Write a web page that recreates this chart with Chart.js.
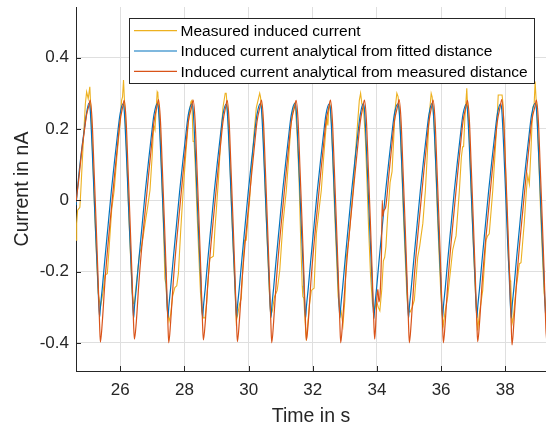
<!DOCTYPE html>
<html>
<head>
<meta charset="utf-8">
<title>Induced current</title>
<script src="https://cdn.jsdelivr.net/npm/chart.js@4.4.1/dist/chart.umd.min.js"></script>
<style>
  html, body { margin: 0; padding: 0; background: #ffffff; }
  #wrap { width: 546px; height: 429px; }
</style>
</head>
<body>
<div id="wrap"><canvas id="currentChart" width="546" height="429"></canvas></div>
<script>
// ============================================================================
// Data
// ============================================================================

const seriesLabels = [
    'Measured induced current',
    'Induced current analytical from fitted distance',
    'Induced current analytical from measured distance'
];

const xTickValues = [26, 28, 30, 32, 34, 36, 38];
const yTickValues = [-0.4, -0.2, 0, 0.2, 0.4];

// Measured induced current (nA)
const measuredTime = [
    24.62, 24.64, 24.67, 24.74, 24.77, 24.85, 24.91, 24.95, 25.00, 25.05,
    25.10, 25.15, 25.20, 25.26, 25.31, 25.38, 25.42, 25.47, 25.52, 25.595,
    25.66, 25.73, 25.81, 25.90, 25.99, 26.04, 26.07, 26.10,
    26.16, 26.21, 26.26, 26.32, 26.37, 26.41, 26.44, 26.48, 26.54, 26.60,
    26.66, 26.70, 26.78, 26.85, 26.925, 26.99, 27.04, 27.08, 27.12, 27.15,
    27.17, 27.23, 27.28, 27.33, 27.37, 27.39, 27.42, 27.47, 27.52, 27.57,
    27.63, 27.70, 27.76, 27.81, 27.88, 27.96, 28.05, 28.13, 28.20, 28.23,
    28.25, 28.27, 28.30, 28.34, 28.39, 28.45, 28.50, 28.54, 28.58, 28.64,
    28.69, 28.74, 28.79, 28.85, 28.90, 28.95, 29.00, 29.06, 29.13, 29.20, 29.27,
    29.30, 29.37, 29.42, 29.47, 29.53, 29.58, 29.615, 29.66, 29.72, 29.77,
    29.82, 29.875, 29.925, 29.98, 30.03, 30.10, 30.17, 30.24, 30.345,
    30.37, 30.44, 30.49, 30.54, 30.60, 30.64, 30.69, 30.74, 30.78, 30.81,
    30.89, 30.97, 31.02, 31.07, 31.175, 31.25, 31.31, 31.37, 31.43,
    31.46, 31.52, 31.57, 31.62, 31.67, 31.69, 31.72, 31.76, 31.80, 31.84,
    31.90, 31.955, 32.04, 32.11, 32.19, 32.266, 32.33, 32.40, 32.44, 32.47, 32.50, 32.53,
    32.58, 32.63, 32.68, 32.74, 32.79, 32.83, 32.88, 32.94, 33.00, 33.045,
    33.12, 33.19, 33.255, 33.32, 33.40, 33.45, 33.49,
    33.53, 33.58, 33.64, 33.69, 33.74, 33.80, 33.86, 33.92, 33.95, 33.98,
    34.04, 34.09, 34.15, 34.20, 34.24, 34.28, 34.33, 34.41, 34.47, 34.52, 34.57, 34.62,
    34.66, 34.72, 34.77, 34.82, 34.88, 34.93, 34.96, 35.03, 35.10, 35.165,
    35.27, 35.33, 35.375, 35.43, 35.51, 35.57, 35.63, 35.69,
    35.72, 35.78, 35.83, 35.88, 35.94, 35.99, 36.04, 36.07, 36.11, 36.205,
    36.36, 36.41, 36.465, 36.57, 36.63, 36.67, 36.70, 36.74, 36.80,
    36.83, 36.86, 36.91, 36.96, 37.02, 37.07, 37.14, 37.19, 37.297, 37.40,
    37.45, 37.50, 37.61, 37.68, 37.74, 37.78, 37.84, 37.90,
    37.93, 37.97, 38.01, 38.06, 38.10, 38.15, 38.17, 38.21, 38.25, 38.33,
    38.44, 38.49, 38.54, 38.59, 38.66, 38.70, 38.75, 38.80, 38.855, 38.90, 38.93,
    39.00, 39.05, 39.10, 39.16, 39.21, 39.27, 39.30
];
const measuredCurrent = [
    -0.112, -0.065, -0.028, -0.02, 0.028, 0.17, 0.27, 0.304, 0.285, 0.318,
    0.22, 0.10, -0.03, -0.16, -0.26, -0.30, -0.28, -0.253, -0.21, -0.206,
    -0.122, -0.028, 0.028, 0.13, 0.215, 0.28, 0.29, 0.337,
    0.22, 0.10, -0.03, -0.16, -0.26, -0.29, -0.29, -0.25, -0.20, -0.15,
    -0.131, -0.11, -0.06, -0.02, 0.028, 0.12, 0.21, 0.197, 0.26, 0.304,
    0.30, 0.22, 0.10, -0.03, -0.15, -0.22, -0.235, -0.31, -0.34, -0.32,
    -0.27, -0.245, -0.24, -0.206, -0.09, 0.028, 0.14, 0.23, 0.276, 0.28,
    0.22, 0.165, 0.165, 0.09, -0.03, -0.16, -0.26, -0.31, -0.33, -0.33,
    -0.29, -0.22, -0.163, -0.16, -0.157, -0.08, -0.019, 0.06, 0.17, 0.26, 0.30,
    0.30, 0.22, 0.10, -0.03, -0.16, -0.26, -0.34, -0.32, -0.29, -0.276,
    -0.19, -0.112, -0.112, -0.05, 0.0, 0.10, 0.19, 0.26, 0.30,
    0.29, 0.22, 0.10, -0.03, -0.16, -0.25, -0.323, -0.31, -0.285, -0.27,
    -0.253, -0.197, -0.13, -0.065, 0.028, 0.12, 0.20, 0.25, 0.27,
    0.26, 0.17, 0.06, -0.10, -0.24, -0.27, -0.275, -0.34, -0.393, -0.35,
    -0.29, -0.253, -0.247, -0.094, -0.03, 0.028, 0.11, 0.19, 0.23, 0.21, 0.26, 0.27,
    0.22, 0.10, -0.03, -0.16, -0.27, -0.30, -0.31, -0.35, -0.28, -0.16,
    -0.112, -0.04, 0.028, 0.12, 0.22, 0.28, 0.30,
    0.27, 0.26, 0.17, 0.05, -0.08, -0.21, -0.29, -0.31, -0.30, -0.28,
    -0.30, -0.31, -0.25, -0.17, -0.16, -0.13, -0.05, 0.05, 0.08, 0.17, 0.26, 0.30,
    0.29, 0.22, 0.10, -0.03, -0.16, -0.26, -0.304, -0.314, -0.30, -0.28,
    -0.16, -0.13, -0.10, -0.065, 0.028, 0.13, 0.24, 0.30,
    0.29, 0.22, 0.10, -0.03, -0.16, -0.26, -0.33, -0.35, -0.32, -0.27,
    -0.14, -0.12, -0.10, 0.028, 0.12, 0.15, 0.15, 0.23, 0.314,
    0.25, 0.22, 0.10, -0.03, -0.16, -0.26, -0.365, -0.32, -0.253, -0.112,
    -0.10, -0.094, 0.028, 0.13, 0.22, 0.295, 0.295, 0.295,
    0.27, 0.18, 0.08, -0.05, -0.17, -0.225, -0.23, -0.347, -0.33, -0.253,
    -0.178, -0.175, -0.12, -0.065, 0.03, 0.07, 0.045, 0.14, 0.26, 0.27, 0.333,
    0.22, 0.10, -0.03, -0.16, -0.26, -0.31, -0.32
];

// Analytical current from fitted distance (nA)
const fittedTime = [
    24.62, 24.70, 24.80, 24.88, 24.95,
    25.02, 25.06, 25.12, 25.18, 25.24, 25.30, 25.355, 25.38, 25.44, 25.52, 25.62, 25.72, 25.82, 25.92, 25.99,
    26.08, 26.12, 26.18, 26.24, 26.30, 26.36, 26.415, 26.44, 26.50, 26.58, 26.68, 26.78, 26.88, 26.98, 27.05,
    27.15, 27.19, 27.25, 27.31, 27.37, 27.43, 27.485, 27.51, 27.57, 27.65, 27.75, 27.85, 27.95, 28.05, 28.12,
    28.23, 28.27, 28.33, 28.39, 28.45, 28.51, 28.565, 28.59, 28.65, 28.73, 28.83, 28.93, 29.03, 29.13, 29.20,
    29.29, 29.33, 29.39, 29.45, 29.51, 29.57, 29.625, 29.65, 29.71, 29.79, 29.89, 29.99, 30.09, 30.19, 30.26,
    30.36, 30.40, 30.46, 30.52, 30.58, 30.64, 30.695, 30.72, 30.78, 30.86, 30.96, 31.06, 31.16, 31.26, 31.33,
    31.44, 31.48, 31.54, 31.60, 31.66, 31.72, 31.775, 31.80, 31.86, 31.94, 32.04, 32.14, 32.24, 32.34, 32.41,
    32.51, 32.55, 32.61, 32.67, 32.73, 32.79, 32.845, 32.87, 32.93, 33.01, 33.11, 33.21, 33.31, 33.41, 33.48,
    33.57, 33.61, 33.67, 33.73, 33.79, 33.85, 33.905, 33.93, 33.99, 34.07, 34.17, 34.27, 34.37, 34.47, 34.54,
    34.65, 34.69, 34.75, 34.81, 34.87, 34.93, 34.985, 35.01, 35.07, 35.15, 35.25, 35.35, 35.45, 35.55, 35.62,
    35.71, 35.75, 35.81, 35.87, 35.93, 35.99, 36.045, 36.07, 36.13, 36.21, 36.31, 36.41, 36.51, 36.61, 36.68,
    36.78, 36.82, 36.88, 36.94, 37.00, 37.06, 37.115, 37.14, 37.20, 37.28, 37.38, 37.48, 37.58, 37.68, 37.75,
    37.85, 37.89, 37.95, 38.01, 38.07, 38.13, 38.185, 38.21, 38.27, 38.35, 38.45, 38.55, 38.65, 38.75, 38.82,
    38.93, 38.97, 39.03, 39.09, 39.15, 39.21, 39.265, 39.29
];
const fittedCurrent = [
    -0.014, 0.065, 0.145, 0.20, 0.245,
    0.272, 0.256, 0.15, 0.02, -0.11, -0.23, -0.328, -0.30, -0.245, -0.165, -0.07, 0.025, 0.11, 0.19, 0.24,
    0.270, 0.254, 0.15, 0.02, -0.11, -0.23, -0.331, -0.30, -0.245, -0.165, -0.07, 0.025, 0.11, 0.19, 0.24,
    0.271, 0.255, 0.15, 0.02, -0.11, -0.23, -0.329, -0.30, -0.245, -0.165, -0.07, 0.025, 0.11, 0.19, 0.24,
    0.270, 0.254, 0.15, 0.02, -0.11, -0.23, -0.330, -0.30, -0.245, -0.165, -0.07, 0.025, 0.11, 0.19, 0.24,
    0.269, 0.253, 0.15, 0.02, -0.11, -0.23, -0.330, -0.30, -0.245, -0.165, -0.07, 0.025, 0.11, 0.19, 0.24,
    0.271, 0.255, 0.15, 0.02, -0.11, -0.23, -0.329, -0.30, -0.245, -0.165, -0.07, 0.025, 0.11, 0.19, 0.24,
    0.272, 0.256, 0.15, 0.02, -0.11, -0.23, -0.331, -0.30, -0.245, -0.165, -0.07, 0.025, 0.11, 0.19, 0.24,
    0.270, 0.254, 0.15, 0.02, -0.11, -0.23, -0.330, -0.30, -0.245, -0.165, -0.07, 0.025, 0.11, 0.19, 0.24,
    0.271, 0.255, 0.15, 0.02, -0.11, -0.23, -0.332, -0.30, -0.245, -0.165, -0.07, 0.025, 0.11, 0.19, 0.24,
    0.270, 0.254, 0.15, 0.02, -0.11, -0.23, -0.330, -0.30, -0.245, -0.165, -0.07, 0.025, 0.11, 0.19, 0.24,
    0.271, 0.255, 0.15, 0.02, -0.11, -0.23, -0.331, -0.30, -0.245, -0.165, -0.07, 0.025, 0.11, 0.19, 0.24,
    0.269, 0.253, 0.15, 0.02, -0.11, -0.23, -0.330, -0.30, -0.245, -0.165, -0.07, 0.025, 0.11, 0.19, 0.24,
    0.270, 0.254, 0.15, 0.02, -0.11, -0.23, -0.331, -0.30, -0.245, -0.165, -0.07, 0.025, 0.11, 0.19, 0.24,
    0.272, 0.256, 0.15, 0.02, -0.11, -0.23, -0.330, -0.30
];

// Analytical current from measured distance (nA)
const measDistTime = [
    24.62, 24.70, 24.80, 24.88, 24.95,
    25.02, 25.06, 25.12, 25.18, 25.24, 25.30, 25.355, 25.38, 25.44, 25.52, 25.62, 25.72, 25.82, 25.92, 25.99,
    26.08, 26.12, 26.18, 26.24, 26.30, 26.36, 26.415, 26.44, 26.50, 26.58, 26.68, 26.78, 26.88, 26.98, 27.05,
    27.15, 27.19, 27.25, 27.31, 27.37, 27.43, 27.485, 27.51, 27.57, 27.65, 27.75, 27.85, 27.95, 28.05, 28.12,
    28.23, 28.27, 28.33, 28.39, 28.45, 28.51, 28.565, 28.59, 28.65, 28.73, 28.83, 28.93, 29.03, 29.13, 29.20,
    29.29, 29.33, 29.39, 29.45, 29.51, 29.57, 29.625, 29.65, 29.71, 29.79, 29.89, 29.99, 30.09, 30.19, 30.26,
    30.36, 30.40, 30.46, 30.52, 30.58, 30.64, 30.695, 30.72, 30.78, 30.86, 30.96, 31.06, 31.16, 31.26, 31.33,
    31.44, 31.48, 31.54, 31.60, 31.66, 31.72, 31.775, 31.80, 31.86, 31.94, 32.04, 32.14, 32.24, 32.34, 32.41,
    32.51, 32.55, 32.61, 32.67, 32.73, 32.79, 32.845, 32.87, 32.93, 33.01, 33.11, 33.21, 33.31, 33.41, 33.48,
    33.57, 33.61, 33.67, 33.73, 33.79, 33.85, 33.905, 33.93, 33.97, 34.00, 34.03, 34.06, 34.10, 34.14,
    34.165, 34.185, 34.21, 34.27, 34.37, 34.47, 34.54,
    34.65, 34.69, 34.75, 34.81, 34.87, 34.93, 34.985, 35.01, 35.07, 35.15, 35.25, 35.35, 35.45, 35.55, 35.62,
    35.71, 35.75, 35.81, 35.87, 35.93, 35.99, 36.045, 36.07, 36.13, 36.21, 36.31, 36.41, 36.51, 36.61, 36.68,
    36.78, 36.82, 36.88, 36.94, 37.00, 37.06, 37.115, 37.14, 37.20, 37.28, 37.38, 37.48, 37.58, 37.68, 37.75,
    37.85, 37.89, 37.95, 38.01, 38.07, 38.13, 38.185, 38.21, 38.27, 38.35, 38.45, 38.55, 38.65, 38.75, 38.82,
    38.93, 38.97, 39.03, 39.09, 39.15, 39.21, 39.265, 39.29
];
const measDistCurrent = [
    -0.005, 0.055, 0.14, 0.195, 0.24,
    0.265, 0.281, 0.225, 0.09, -0.05, -0.20, -0.35, -0.398, -0.34, -0.23, -0.12, -0.025, 0.07, 0.16, 0.22,
    0.264, 0.280, 0.225, 0.09, -0.05, -0.20, -0.35, -0.390, -0.34, -0.23, -0.12, -0.025, 0.07, 0.16, 0.22,
    0.266, 0.282, 0.225, 0.09, -0.05, -0.20, -0.35, -0.400, -0.34, -0.23, -0.12, -0.025, 0.07, 0.16, 0.22,
    0.265, 0.281, 0.225, 0.09, -0.05, -0.20, -0.35, -0.392, -0.34, -0.23, -0.12, -0.025, 0.07, 0.16, 0.22,
    0.264, 0.280, 0.225, 0.09, -0.05, -0.20, -0.35, -0.397, -0.34, -0.23, -0.12, -0.025, 0.07, 0.16, 0.22,
    0.265, 0.281, 0.225, 0.09, -0.05, -0.20, -0.35, -0.400, -0.34, -0.23, -0.12, -0.025, 0.07, 0.16, 0.22,
    0.264, 0.280, 0.225, 0.09, -0.05, -0.20, -0.35, -0.393, -0.34, -0.23, -0.12, -0.025, 0.07, 0.16, 0.22,
    0.265, 0.281, 0.225, 0.09, -0.05, -0.20, -0.35, -0.400, -0.34, -0.23, -0.12, -0.025, 0.07, 0.16, 0.22,
    0.265, 0.281, 0.225, 0.09, -0.05, -0.20, -0.35, -0.390, -0.33, -0.27, -0.25, -0.285, -0.26, -0.15,
    0.0, -0.045, -0.03, -0.02, 0.07, 0.16, 0.22,
    0.266, 0.282, 0.225, 0.09, -0.05, -0.20, -0.35, -0.400, -0.34, -0.23, -0.12, -0.025, 0.07, 0.16, 0.22,
    0.265, 0.281, 0.225, 0.09, -0.05, -0.20, -0.35, -0.400, -0.34, -0.23, -0.12, -0.025, 0.07, 0.16, 0.22,
    0.264, 0.280, 0.225, 0.09, -0.05, -0.20, -0.35, -0.397, -0.34, -0.23, -0.12, -0.025, 0.07, 0.16, 0.22,
    0.266, 0.282, 0.225, 0.09, -0.05, -0.20, -0.35, -0.406, -0.34, -0.23, -0.12, -0.025, 0.07, 0.16, 0.22,
    0.265, 0.281, 0.225, 0.09, -0.05, -0.20, -0.36, -0.392
];

// ============================================================================
// Helpers
// ============================================================================

const FONT = "'Liberation Sans', Arial, Helvetica, sans-serif";
const AXIS_COLOR = '#262626';

function toPoints(xs, ys) {
    return xs.map((x, i) => ({ x: x, y: ys[i] }));
}

function fixedTicks(values) {
    return scale => {
        scale.ticks = values.map(v => ({ value: v }));
    };
}

// Pin the axis box size and drop the label overhang padding Chart.js adds
function fixedBox(prop, size) {
    return scale => {
        scale[prop] = size;
        scale.paddingTop = 0;
        scale.paddingBottom = 0;
        scale.paddingLeft = 0;
        scale.paddingRight = 0;
    };
}

// Inward tick marks, like the original axes
const innerTicks = {
    id: 'innerTicks',
    afterDraw(chart, args, opts) {
        const { ctx, chartArea: area, scales } = chart;
        ctx.save();
        ctx.strokeStyle = AXIS_COLOR;
        ctx.lineWidth = 1;
        ctx.beginPath();
        xTickValues.forEach(v => {
            const px = Math.round(scales.x.getPixelForValue(v)) + 0.5;
            ctx.moveTo(px, area.bottom);
            ctx.lineTo(px, area.bottom - opts.length);
        });
        yTickValues.forEach(v => {
            const py = Math.round(scales.y.getPixelForValue(v)) + 0.5;
            ctx.moveTo(area.left, py);
            ctx.lineTo(area.left + opts.length, py);
        });
        ctx.stroke();
        ctx.restore();
    }
};

// Boxed legend drawn inside the plot area
const boxedLegend = {
    id: 'boxedLegend',
    afterDraw(chart, args, opts) {
        const ctx = chart.ctx;
        ctx.save();
        ctx.fillStyle = '#ffffff';
        ctx.fillRect(opts.x, opts.y, opts.width, opts.height);
        ctx.strokeStyle = AXIS_COLOR;
        ctx.lineWidth = 1;
        ctx.strokeRect(opts.x + 0.5, opts.y + 0.5, opts.width, opts.height);

        ctx.font = `${opts.fontSize}px ${FONT}`;
        ctx.textBaseline = 'middle';
        chart.data.datasets.forEach((ds, i) => {
            const y = opts.y + opts.firstRow + i * opts.rowGap;
            ctx.strokeStyle = ds.borderColor;
            ctx.lineWidth = 1.2;
            ctx.beginPath();
            ctx.moveTo(opts.x + 5, y);
            ctx.lineTo(opts.x + 48, y);
            ctx.stroke();
            ctx.fillStyle = '#000000';
            ctx.fillText(ds.label, opts.x + 51.5, y + 1);
        });
        ctx.restore();
    }
};

// ============================================================================
// Chart
// ============================================================================

function renderChart() {
    const ctx = document.getElementById('currentChart');

    new Chart(ctx, {
        type: 'line',
        data: {
            datasets: [
                {
                    label: seriesLabels[0],
                    data: toPoints(measuredTime, measuredCurrent),
                    borderColor: '#EDB120',
                    borderWidth: 1.1,
                    tension: 0,
                    order: 3
                },
                {
                    label: seriesLabels[1],
                    data: toPoints(fittedTime, fittedCurrent),
                    borderColor: '#0072BD',
                    borderWidth: 1.2,
                    cubicInterpolationMode: 'monotone',
                    order: 2
                },
                {
                    label: seriesLabels[2],
                    data: toPoints(measDistTime, measDistCurrent),
                    borderColor: '#D95319',
                    borderWidth: 1.2,
                    cubicInterpolationMode: 'monotone',
                    order: 1
                }
            ]
        },
        options: {
            responsive: false,
            animation: false,
            devicePixelRatio: 1,
            elements: { point: { radius: 0, hoverRadius: 0 } },
            layout: { padding: { top: 7, right: 0, bottom: 0, left: 0 } },
            plugins: {
                legend: { display: false },
                tooltip: { enabled: false },
                innerTicks: { length: 5 },
                boxedLegend: {
                    x: 129, y: 18, width: 405, height: 65,
                    firstRow: 12.7, rowGap: 20.3, fontSize: 15.5
                }
            },
            scales: {
                x: {
                    type: 'linear',
                    min: 24.619,
                    max: 39.269,
                    afterBuildTicks: fixedTicks(xTickValues),
                    afterFit: fixedBox('height', 58),
                    grid: { color: '#dfdfdf', drawTicks: false },
                    border: { display: true, color: AXIS_COLOR, width: 1 },
                    ticks: {
                        color: AXIS_COLOR,
                        font: { family: FONT, size: 17 },
                        padding: 9,
                        autoSkip: false,
                        maxRotation: 0
                    },
                    title: {
                        display: true,
                        text: 'Time in s',
                        color: AXIS_COLOR,
                        font: { family: FONT, size: 19.5 },
                        padding: { top: 0, bottom: 1 }
                    }
                },
                y: {
                    type: 'linear',
                    min: -0.479,
                    max: 0.542,
                    afterBuildTicks: fixedTicks(yTickValues),
                    afterFit: fixedBox('width', 76),
                    grid: { color: '#dfdfdf', drawTicks: false },
                    border: { display: true, color: AXIS_COLOR, width: 1 },
                    ticks: {
                        color: AXIS_COLOR,
                        font: { family: FONT, size: 17 },
                        padding: 7,
                        autoSkip: false,
                        callback: v => String(v)
                    },
                    title: {
                        display: true,
                        text: 'Current in nA',
                        color: AXIS_COLOR,
                        font: { family: FONT, size: 19.5 },
                        padding: { top: 11, bottom: 0 }
                    }
                }
            }
        },
        plugins: [innerTicks, boxedLegend]
    });
}

document.addEventListener('DOMContentLoaded', renderChart);
</script>
</body>
</html>
